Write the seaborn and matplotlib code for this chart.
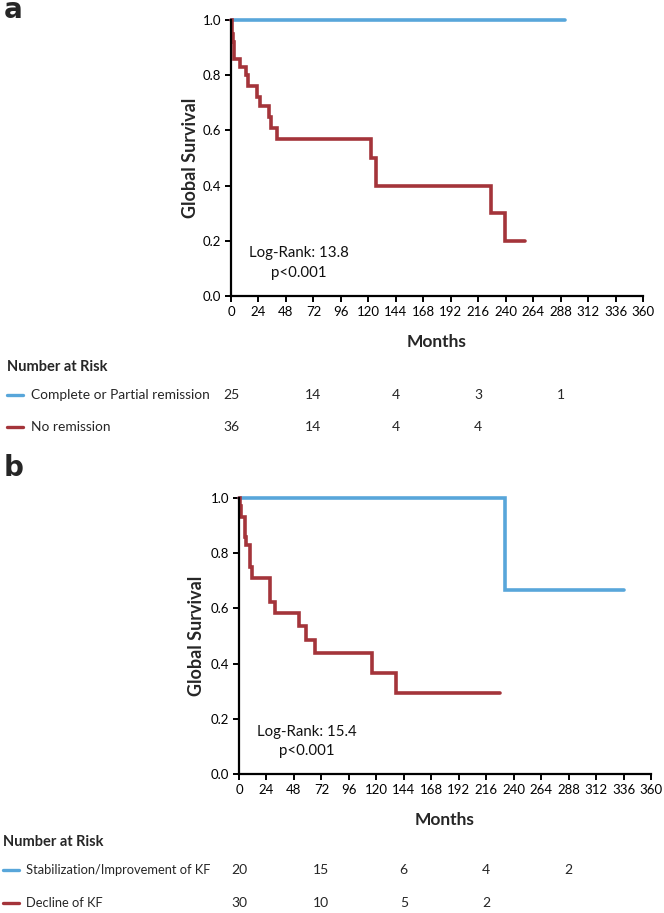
import numpy as np
import pandas as pd
import matplotlib
matplotlib.use("Agg")
import matplotlib.pyplot as plt
import matplotlib.transforms as mtransforms
from matplotlib.lines import Line2D
import seaborn as sns

# ---------------- data ----------------
# Panel a
a_groups = ["Complete or Partial remission", "No remission"]
a_cpr_time = [0, 292]
a_cpr_surv = [1.0, 1.0]
a_nr_time = [0, 0.5, 1.5, 3, 8, 13, 14.5, 23, 25, 33.5, 35, 40.5, 122, 127, 227, 239, 257]
a_nr_surv = [1.0, 0.95, 0.92, 0.86, 0.83, 0.80, 0.76, 0.72, 0.69, 0.65, 0.61, 0.57, 0.50, 0.40, 0.30, 0.20, 0.20]
a_risk_times = [0, 72, 144, 216, 288]
a_risk_cpr = ["25", "14", "4", "3", "1"]
a_risk_nr = ["36", "14", "4", "4"]
a_stat = "Log-Rank: 13.8\np<0.001"

# Panel b
b_groups = ["Stabilization/Improvement of KF", "Decline of KF"]
b_stab_time = [0, 232, 336]
b_stab_surv = [1.0, 0.667, 0.667]
b_dec_time = [0, 0.6, 1.5, 5, 6.4, 9.9, 11.4, 26.8, 31.2, 52.5, 58.9, 66.2, 116.3, 137.6, 228]
b_dec_surv = [1.0, 0.97, 0.93, 0.86, 0.83, 0.75, 0.71, 0.625, 0.583, 0.535, 0.487, 0.438, 0.366, 0.293, 0.293]
b_risk_times = [0, 72, 144, 216, 288]
b_risk_stab = ["20", "15", "6", "4", "2"]
b_risk_dec = ["30", "10", "5", "2"]
b_stat = "Log-Rank: 15.4\np<0.001"

x_ticks = list(range(0, 361, 24))
y_ticks = [0.0, 0.2, 0.4, 0.6, 0.8, 1.0]

BLUE = "#58A6DA"
RED = "#A4343A"

# ---------------- style ----------------
sns.set_theme(style="ticks")
plt.rcParams["font.family"] = ["Lato", "DejaVu Sans"]

W, H = 664, 913
fig = plt.figure(figsize=(W / 100, H / 100), dpi=100)


def fx(px):
    return px / W


def fy(py):
    return 1 - py / H


def make_df(t1, s1, g1, t2, s2, g2):
    return pd.DataFrame({
        "time": list(t1) + list(t2),
        "surv": list(s1) + list(s2),
        "group": [g1] * len(t1) + [g2] * len(t2),
    })


def panel(left, top, right, bottom, df, groups, stat, stat_x, stat_y,
          ylab_x, months_y, nar_y, row_ys, marker_x, text_x, label_size,
          risk_times, risk1, risk2, letter, letter_xy):
    ax = fig.add_axes([fx(left), fy(bottom), fx(right - left), (bottom - top) / H])
    sns.lineplot(data=df, x="time", y="surv", hue="group", hue_order=groups,
                 palette=[BLUE, RED], drawstyle="steps-post", estimator=None,
                 sort=False, linewidth=2.6, legend=False, ax=ax)
    for ln in ax.lines:
        ln.set_clip_on(False)
        ln.set_solid_joinstyle("miter")
    ax.set_xlim(0, 360)
    ax.set_ylim(0, 1)
    ax.set_xticks(x_ticks)
    ax.set_xticklabels([str(t) for t in x_ticks])
    ax.set_yticks(y_ticks)
    ax.set_yticklabels([f"{v:.1f}" for v in y_ticks])
    sns.despine(ax=ax)
    for s in ["left", "bottom"]:
        ax.spines[s].set_linewidth(1.6)
        ax.spines[s].set_color("black")
    ax.tick_params(axis="both", direction="out", length=4, width=1.4,
                   labelsize=9.5, pad=3, colors="black")
    ax.set_xlabel("Months", fontsize=12.5, fontweight="bold")
    ax.xaxis.set_label_coords(0.5, (bottom - months_y) / (bottom - top))
    ax.xaxis.label.set_va("center")
    ax.set_ylabel("Global Survival", fontsize=13, fontweight="bold")
    ax.yaxis.set_label_coords((ylab_x - left) / (right - left), 0.5)
    ax.yaxis.label.set_va("center")
    ax.text(stat_x, stat_y, stat, fontsize=10.8, ha="center", va="center",
            linespacing=1.5, color="#111111")

    # number at risk table
    fig.text(fx(marker_x[0]), fy(nar_y), "Number at Risk", fontsize=10.5,
             fontweight="bold", ha="left", va="center")
    trans = mtransforms.blended_transform_factory(ax.transData, fig.transFigure)
    for ry, col, lab, vals in zip(row_ys, [BLUE, RED], groups, [risk1, risk2]):
        fig.add_artist(Line2D([fx(marker_x[0]), fx(marker_x[1])], [fy(ry), fy(ry)],
                              color=col, linewidth=2.4, solid_capstyle="round"))
        fig.text(fx(text_x), fy(ry), lab, fontsize=label_size, ha="left", va="center")
        for t, v in zip(risk_times, vals):
            ax.text(t, fy(ry), v, transform=trans, fontsize=10, ha="center",
                    va="center", clip_on=False)
    fig.text(fx(letter_xy[0]), fy(letter_xy[1]), letter, fontsize=20,
             fontweight="bold", ha="center", va="baseline", family=["DejaVu Sans"])
    return ax


df_a = make_df(a_cpr_time, a_cpr_surv, a_groups[0], a_nr_time, a_nr_surv, a_groups[1])
df_b = make_df(b_stab_time, b_stab_surv, b_groups[0], b_dec_time, b_dec_surv, b_groups[1])

panel(231, 20, 643, 296, df_a, a_groups, a_stat, 59.4, 0.12,
      190, 341.7, 366.7, [395, 427], (7, 23), 31, 9.9,
      a_risk_times, a_risk_cpr, a_risk_nr, "a", (13, 18))

panel(239, 498, 651, 774, df_b, b_groups, b_stat, 59.4, 0.117,
      197, 820, 841.7, [870, 902.7], (3, 19), 26, 9.3,
      b_risk_times, b_risk_stab, b_risk_dec, "b", (14, 476))

fig.savefig("out.png", dpi=100)
